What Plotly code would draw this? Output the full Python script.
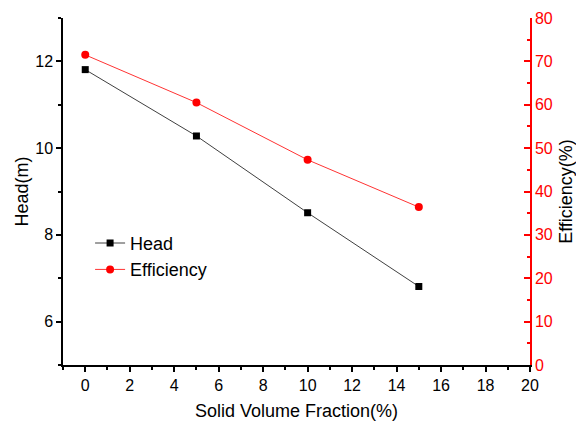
import plotly.graph_objects as go

fraction = [0, 5, 10, 15]
head = [11.81, 10.28, 8.51, 6.81]
efficiency = [71.5, 60.5, 47.3, 36.4]

FONT = "Liberation Sans, Arial, sans-serif"

fig = go.Figure()
fig.add_trace(go.Scatter(
    x=fraction, y=head, name="Head", mode="lines+markers",
    line=dict(color="#404040", width=1),
    marker=dict(symbol="square", size=7, color="black"),
))
fig.add_trace(go.Scatter(
    x=fraction, y=efficiency, name="Efficiency", mode="lines+markers",
    yaxis="y2",
    line=dict(color="#ff3333", width=1),
    marker=dict(symbol="circle", size=8, color="red"),
))

fig.update_layout(
    width=576, height=421,
    margin=dict(l=63, r=46, t=18, b=56),
    paper_bgcolor="white", plot_bgcolor="white",
    font=dict(family=FONT, size=16, color="black"),
    showlegend=True,
    legend=dict(x=0.058, y=0.404, xanchor="left", yanchor="top",
                bgcolor="rgba(0,0,0,0)", font=dict(size=18)),
    xaxis=dict(
        range=[-1, 20], tickmode="array", tickvals=list(range(0, 21, 2)),
        showline=True, linecolor="black", linewidth=1.5, mirror=False,
        ticks="outside", ticklen=5, tickcolor="black", tickwidth=1.5,
        minor=dict(ticks="outside", ticklen=3, tickvals=list(range(-1, 21, 2)), tickcolor="black", tickwidth=1.5),
        showgrid=False, zeroline=False, automargin=False,
        title=dict(text="Solid Volume Fraction(%)", font=dict(size=18), standoff=12),
        tickfont=dict(size=16),
    ),
    yaxis=dict(
        range=[5, 13], tickmode="array", tickvals=[6, 8, 10, 12],
        showline=True, linecolor="black", linewidth=1.5,
        ticks="outside", ticklen=5, tickcolor="black", tickwidth=1.5,
        minor=dict(ticks="outside", ticklen=3, tickvals=[5, 7, 9, 11, 13], tickcolor="black", tickwidth=1.5),
        showgrid=False, zeroline=False, automargin=False,
        title=dict(text="Head(m)", font=dict(size=18), standoff=2),
        tickfont=dict(size=16),
    ),
    yaxis2=dict(
        range=[0, 80], tickmode="array", tickvals=list(range(0, 81, 10)),
        overlaying="y", side="right", anchor="x",
        showline=True, linecolor="red", linewidth=1.5,
        ticks="inside", ticklen=6, tickcolor="red", tickwidth=1.5,
        minor=dict(ticks="inside", ticklen=3, tickvals=list(range(5, 80, 10)), tickcolor="red", tickwidth=1.5),
        showgrid=False, zeroline=False, automargin=False,
        tickfont=dict(size=16, color="red"),
        title=dict(text="Efficiency(%)", font=dict(size=18, color="black"), standoff=10),
    ),
)

fig.write_html("out.html")
